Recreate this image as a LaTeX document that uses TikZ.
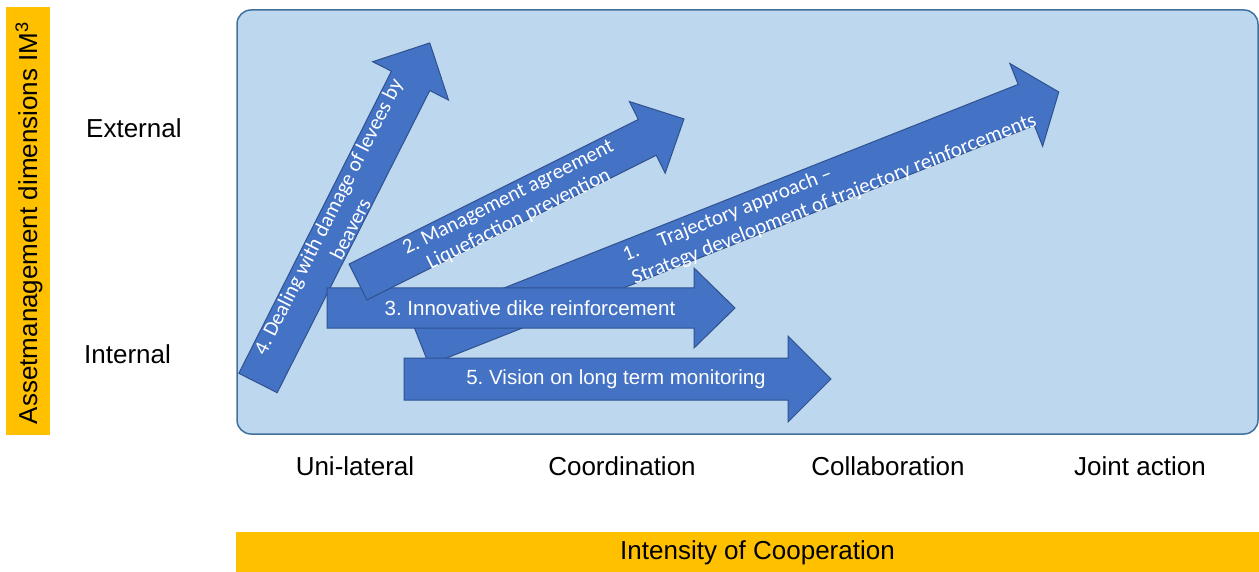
\documentclass[tikz,border=0pt]{standalone}
\usepackage{fontspec}
\setmainfont{Liberation Sans}
\newfontfamily\carlito{Carlito}
\frenchspacing
\definecolor{panelfill}{HTML}{BDD7EE}
\definecolor{paneledge}{HTML}{41719C}
\definecolor{arrowfill}{HTML}{4472C4}
\definecolor{arrowedge}{HTML}{2F528F}
\definecolor{baryellow}{HTML}{FFC000}
\tikzset{
  labeltext/.style={font=\fontsize{26}{31}\selectfont, inner sep=0pt},
  arrowtext/.style={font=\fontsize{20.5}{24}\selectfont, text=white, inner sep=0pt},
  diagtext/.style={font=\carlito\fontsize{21}{25}\selectfont, text=white, inner sep=0pt,
                   text height=15pt, text depth=5pt, transform shape},
  barrowstyle/.style={fill=arrowfill, draw=arrowedge, line width=1pt, line join=miter},
  yellowbar/.style={fill=baryellow, inner sep=0pt},
}
% #1 x, #2 y (tail centre), #3 angle, #4 length, #5 half shaft, #6 half head, #7 head length
\newcommand{\blockarrow}[7]{%
  \begin{scope}[shift={(#1,#2)}, rotate=#3]
    \draw[barrowstyle] (0,-#5) -- ({#4-#7},-#5) -- ({#4-#7},-#6) -- (#4,0)
      -- ({#4-#7},#6) -- ({#4-#7},#5) -- (0,#5) -- cycle;
  \end{scope}}
\begin{document}
\begin{tikzpicture}[x=1pt,y=-1pt]
\useasboundingbox (0,0) rectangle (1259,572);
% panel
\node[draw=paneledge, fill=panelfill, line width=1.5pt, rounded corners=14pt,
      minimum width=1021pt, minimum height=424pt, inner sep=0pt] (panel) at (747.5,222) {};
% yellow bars
\node[yellowbar, minimum width=44pt, minimum height=428pt] (ybar) at (28,221) {};
\node[labeltext, rotate=90] (ytitle) at (29,223) {Assetmanagement dimensions IM\textsuperscript{3}};
\node[yellowbar, minimum width=1023pt, minimum height=40pt] (xbar) at (747.5,552) {};
\node[labeltext] (xtitle) at (757.5,553) {Intensity of Cooperation};
% axis labels
\node[labeltext, anchor=west] (ext) at (86,128) {External};
\node[labeltext, anchor=west] (int) at (84,354) {Internal};
\node[labeltext] (uni) at (355,466) {Uni-lateral};
\node[labeltext] (coord) at (622,466) {Coordination};
\node[labeltext] (coll) at (888,466) {Collaboration};
\node[labeltext] (joint) at (1140,466) {Joint action};
% arrow 1
\blockarrow{421}{344.5}{21.6}{686}{22}{44.5}{35}
\begin{scope}[shift={(421,344.5)}, rotate=21.6]
  \node[diagtext, anchor=west] (t1a) at (221,-7) {\makebox[38pt][l]{1.}Trajectory approach –};
  \node[diagtext, anchor=west] (t1b) at (221,18) {Strategy development of trajectory reinforcements};
\end{scope}
% arrow 4
\blockarrow{258}{383}{63.2}{381}{21.5}{42.5}{42.5}
\begin{scope}[shift={(258,383)}, rotate=63.2]
  \node[diagtext] (t4a) at (180,-10.5) {4. Dealing with damage of levees by};
  \node[diagtext] (t4b) at (179,15) {beavers};
\end{scope}
% arrow 3
\blockarrow{327}{308}{0}{408}{20}{40}{41}
\node[arrowtext] (t3) at (530,308) {3. Innovative dike reinforcement};
% arrow 2
\blockarrow{358}{282}{26.57}{364.5}{20}{40}{41}
\begin{scope}[shift={(358,282)}, rotate=26.57]
  \node[diagtext] (t2a) at (172,-7.5) {2. Management agreement};
  \node[diagtext] (t2b) at (172,16.5) {Liquefaction prevention};
\end{scope}
% arrow 5
\blockarrow{404}{379}{0}{427}{21}{43}{43}
\node[arrowtext] (t5) at (616,379) {5. Vision on long term monitoring};
\end{tikzpicture}
\end{document}
